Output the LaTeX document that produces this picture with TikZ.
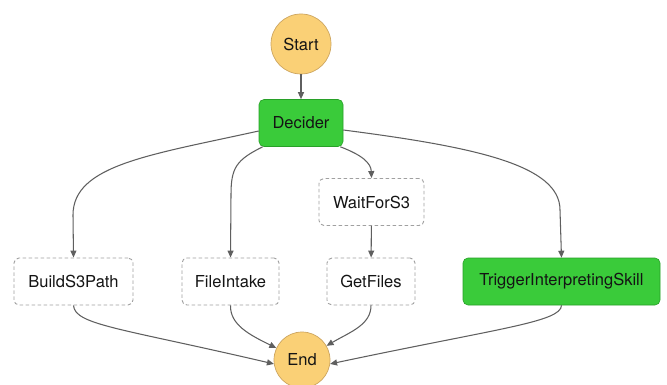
\documentclass[tikz,border=0pt]{standalone}
\usepackage{fontspec}
\setmainfont{TeX Gyre Heros}
\usetikzlibrary{arrows.meta,calc}
\definecolor{stgreen}{RGB}{58,203,58}
\definecolor{stgreenb}{RGB}{40,160,40}
\definecolor{storange}{RGB}{250,208,118}
\definecolor{storangeb}{RGB}{205,165,95}
\definecolor{edgec}{RGB}{95,95,95}
\definecolor{dashc}{RGB}{160,160,160}
\definecolor{txt}{RGB}{20,20,20}
\tikzset{
  every node/.style={font=\fontsize{16.5}{18}\selectfont, text=txt},
  terminal/.style={circle, draw=storangeb, fill=storange, line width=0.7pt, minimum size=60pt, inner sep=0pt},
  greenbox/.style={rectangle, rounded corners=5pt, draw=stgreenb, fill=stgreen, line width=0.6pt, minimum height=47pt, inner sep=0pt},
  taskbox/.style={rectangle, rounded corners=5pt, draw=dashc, dash pattern=on 3.5pt off 2.5pt, line width=0.9pt, fill=white, minimum height=47pt, inner sep=0pt},
  edge/.style={draw=edgec, line width=1.05pt, -{Triangle[length=7pt,width=6pt]}, fill=none},
}
\begin{document}
\begin{tikzpicture}[x=1pt,y=-1pt]
\clip (0,0) rectangle (667,385);
\fill[white] (0,0) rectangle (667,385);
\node[terminal] (start) at (301,44) {Start};
\node[greenbox, minimum width=84pt] (dec) at (301,123) {Decider};
\node[taskbox, minimum width=119pt] (build) at (73.5,281.5) {BuildS3Path};
\node[taskbox, minimum width=97pt] (file) at (230.5,281.5) {FileIntake};
\node[taskbox, minimum width=105pt] (wait) at (371.5,202) {WaitForS3};
\node[taskbox, minimum width=88pt] (get) at (371,281.5) {GetFiles};
\node[greenbox, minimum width=197pt] (trig) at (561.5,281.5) {TriggerInterpretingSkill};
\node[terminal, minimum size=56pt] (end) at (302,360) {End};

\draw[edge] (start) -- (dec);
\draw[edge] (dec.west |- 0,131) .. controls (150,155) and (73,165) .. (73,215) -- (build.north);
\draw[edge] ($(dec.south west)+(4,0)$) .. controls (236,160) and (231,168) .. (231,195) -- (file.north);
\draw[edge] ($(dec.south east)+(-3,0)$) .. controls (362,155) and (371,163) .. (wait.north);
\draw[edge] (dec.east |- 0,130) .. controls (475,147) and (560,165) .. (560,210) -- (trig.north);
\draw[edge] (wait) -- (get);
\draw[edge] (build.south) .. controls (75,325) and (120,328) .. (end.188);
\draw[edge] (file.south) .. controls (230,325) and (250,335) .. (end.155);
\draw[edge] (get.south) .. controls (371,325) and (350,332) .. (end.30);
\draw[edge] (trig.south) .. controls (561,322) and (500,328) .. (end.-8);
\end{tikzpicture}
\end{document}
